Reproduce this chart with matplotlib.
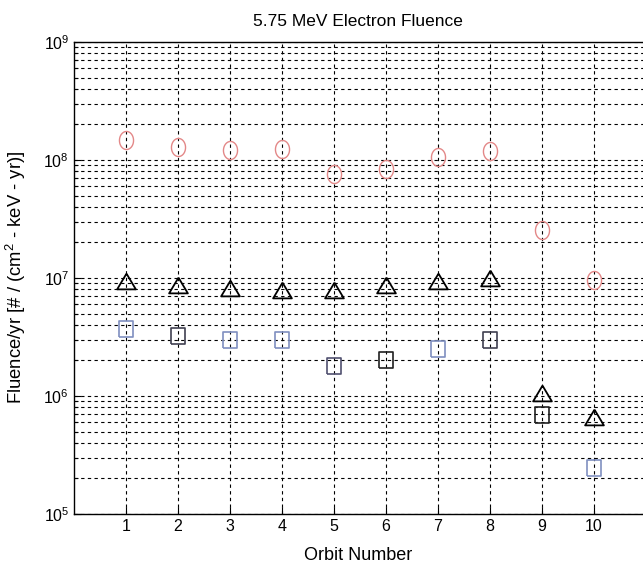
import numpy as np
import matplotlib
matplotlib.use("Agg")
import matplotlib.pyplot as plt
from matplotlib.ticker import LogLocator, LogFormatterSciNotation, NullFormatter

# orbit numbers and fluence values
orbits = [1, 2, 3, 4, 5, 6, 7, 8, 9, 10]
circle_vals = [1.48e8, 1.30e8, 1.22e8, 1.24e8, 7.6e7, 8.4e7, 1.05e8, 1.20e8, 2.55e7, 9.6e6]
triangle_vals = [9.5e6, 8.8e6, 8.3e6, 7.9e6, 7.9e6, 8.7e6, 9.4e6, 1.0e7, 1.05e6, 6.6e5]
square_vals = [3.7e6, 3.2e6, 3.0e6, 3.0e6, 1.8e6, 2.0e6, 2.5e6, 3.0e6, 6.9e5, 2.46e5]

title = "5.75 MeV Electron Fluence"
xlabel = "Orbit Number"
ylabel = "Fluence/yr [# / (cm$^2$ - keV - yr)]"

plt.rcParams['font.family'] = ['Liberation Sans', 'DejaVu Sans']
plt.rcParams['mathtext.fontset'] = 'custom'
plt.rcParams['mathtext.rm'] = 'Liberation Sans'
plt.rcParams['mathtext.it'] = 'Liberation Sans'

# markers are a little stretched in the scanned original
t = np.linspace(0, 2 * np.pi, 60)
ellipse = np.column_stack([0.78 * np.cos(t), np.sin(t)])
tri = [(0, 0.84), (-1, -0.84), (1, -0.84), (0, 0.84)]
rect = [(-0.87, -1), (0.87, -1), (0.87, 1), (-0.87, 1), (-0.87, -1)]

fig = plt.figure(figsize=(6.43, 5.71), dpi=100)
# axes run past the right edge, as in the cropped original
ax = fig.add_axes([74/643, 57/571, 572/643, 472/571])

sq_colors = ['#7f8fc0', '#404050', '#7f8fc0', '#7f8fc0', '#505070',
             '#202020', '#7f8fc0', '#404050', '#202020', '#8090c0']

ax.plot(orbits, circle_vals, ls='none', marker=ellipse, ms=13, mfc='none',
        mec='#e38888', mew=1.0)
ax.plot(orbits, triangle_vals, ls='none', marker=tri, ms=13.5, mfc='none',
        mec='black', mew=1.3)
for x, v, c in zip(orbits, square_vals, sq_colors):
    ax.plot(x, v, ls='none', marker=rect, ms=11, mfc='none', mec=c, mew=1.2)

ax.set_yscale('log')
ax.set_ylim(1e5, 1e9)
ax.set_xlim(0, 11)
ax.set_xticks(orbits)
ax.yaxis.set_major_locator(LogLocator(base=10, numticks=10))
ax.yaxis.set_major_formatter(LogFormatterSciNotation())
ax.yaxis.set_minor_locator(LogLocator(base=10, subs=np.arange(2, 10), numticks=20))
ax.yaxis.set_minor_formatter(NullFormatter())

grid_style = dict(color='black', linestyle=(0, (3, 3)), linewidth=0.8)
ax.grid(True, which='major', axis='both', **grid_style)
ax.grid(True, which='minor', axis='y', **grid_style)

ax.tick_params(which='both', direction='in', labelsize=11.5, length=5, width=0.8)
ax.tick_params(axis='y', which='minor', length=3)
for s in ax.spines.values():
    s.set_linewidth(1.0)

fig.text(358/643, 1 - 21/571, title, ha='center', va='center', fontsize=12.5)
fig.text(358/643, 1 - 555/571, xlabel, ha='center', va='center', fontsize=13)
fig.text(16/643, 1 - 277/571, ylabel, ha='center', va='center', rotation=90, fontsize=13.3)

fig.savefig('out.png', dpi=100)
